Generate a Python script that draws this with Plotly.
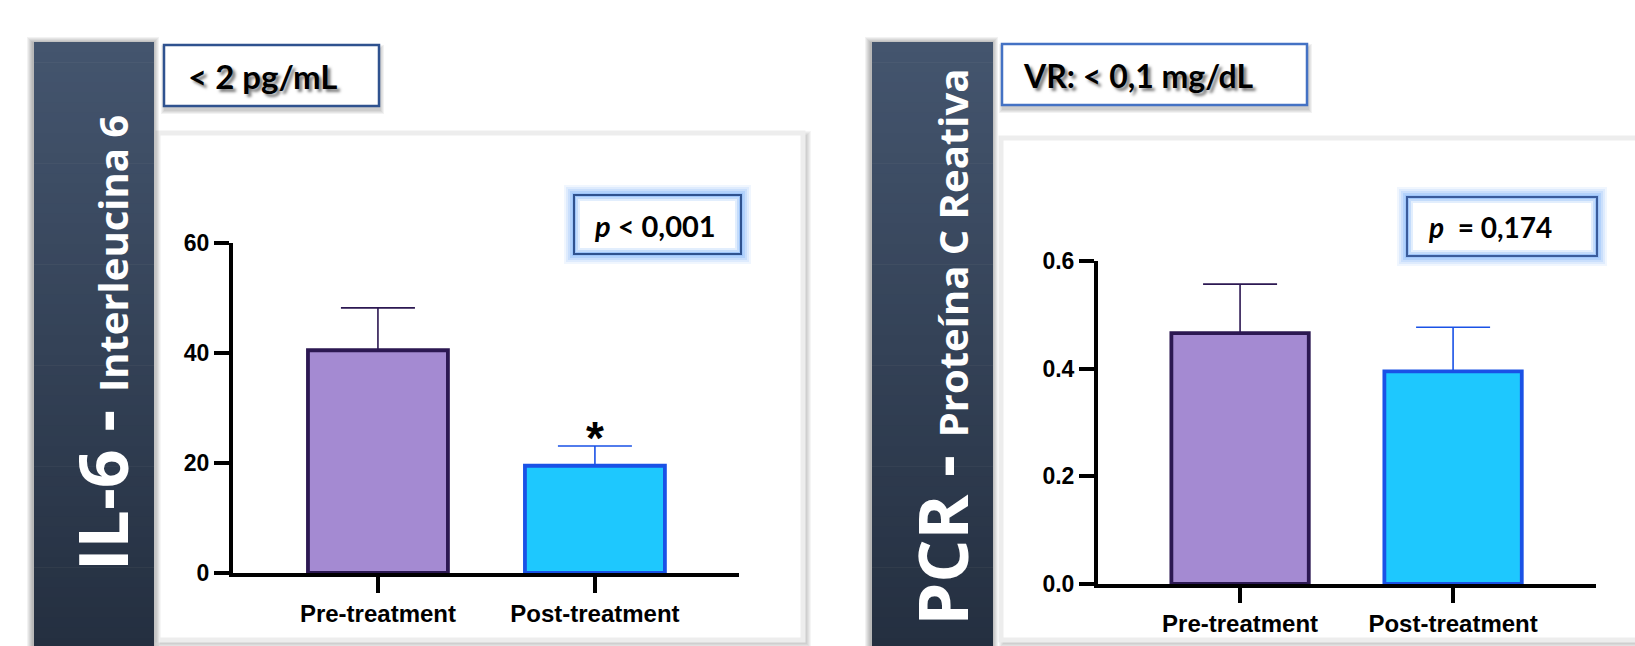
import plotly.graph_objects as go

# ---- data -------------------------------------------------------------
categories = ["Pre-treatment", "Post-treatment"]

il6_mean = [40.5, 19.5]          # pg/mL
il6_sem = [7.7, 3.6]
il6_ticks = [0, 20, 40, 60]

pcr_mean = [0.466, 0.395]        # mg/dL
pcr_sem = [0.091, 0.082]
pcr_ticks = [0.0, 0.2, 0.4, 0.6]

# ---- styling ----------------------------------------------------------
W, H = 1635, 646
BAR_FILL = ["#a48ad2", "#1ec8fe"]
BAR_LINE = ["#2c1852", "#1a52e6"]
AX_FONT = dict(family="Liberation Sans, Arial, sans-serif", size=23, color="black", weight="bold")
CAT_FONT = dict(AX_FONT, size=24)
BOX_FONT = dict(family="Lato, Open Sans, sans-serif", size=32, color="black", weight="bold")
SIDE_FONT = "Open Sans, DejaVu Sans, sans-serif"


def px_x(x):
    return x / W


def px_y(y):
    return 1 - y / H


def rect(x0, y0, x1, y1, fill=None, line_color=None, line_width=0, layer="below"):
    d = dict(type="rect", xref="paper", yref="paper", layer=layer,
             x0=px_x(x0), x1=px_x(x1), y0=px_y(y1), y1=px_y(y0))
    d["fillcolor"] = fill if fill else "rgba(0,0,0,0)"
    d["line"] = dict(color=line_color if line_color else "rgba(0,0,0,0)", width=line_width)
    return d


def mix(c0, c1, t):
    return "rgb(%d,%d,%d)" % tuple(round(a + (b - a) * t) for a, b in zip(c0, c1))


shapes = []


def soft_shadow(x0, y0, x1, y1, dx=0, dy=0, spread=6, alpha=0.045):
    for k in range(spread, 0, -1):
        shapes.append(rect(x0 - k + dx, y0 - k + dy, x1 + k + dx, y1 + k + dy,
                           fill="rgba(0,0,0,%.3f)" % alpha))


def sidebar(x0, x1, y0=42, y1=H + 2):
    soft_shadow(x0, y0, x1, y1, dx=-1, dy=1, spread=6, alpha=0.05)
    top, bottom = (68, 85, 110), (36, 47, 64)
    n = 60
    step = (y1 - y0) / n
    for i in range(n):
        shapes.append(rect(x0, y0 + i * step, x1, y0 + (i + 1) * step + 0.6,
                           fill=mix(top, bottom, i / (n - 1))))


def panel(x0, y0, x1, y1):
    soft_shadow(x0, y0, x1, y1, dx=3, dy=3, spread=5, alpha=0.04)
    shapes.append(rect(x0, y0, x1, y1, fill="white", line_color="#ededed", line_width=5))


def label_box(x0, y0, x1, y1, border):
    soft_shadow(x0, y0, x1, y1, dx=1, dy=4, spread=4, alpha=0.05)
    shapes.append(rect(x0, y0, x1, y1, fill="white", line_color=border, line_width=2.5))


def glow_box(x0, y0, x1, y1, border="#2f528f"):
    for k, a in [(10, 0.10), (8, 0.14), (6, 0.18), (4, 0.24), (2, 0.30)]:
        shapes.append(rect(x0 - k, y0 - k, x1 + k, y1 + k, fill="rgba(110,170,250,%.2f)" % a))
    shapes.append(rect(x0 + 2, y0 + 2, x1 - 2, y1 - 2, fill="#c4dcfb"))
    shapes.append(rect(x0 + 4, y0 + 4, x1 - 4, y1 - 4, fill="#e2eefd"))
    shapes.append(rect(x0 + 6, y0 + 6, x1 - 6, y1 - 6, fill="white"))
    shapes.append(rect(x0, y0, x1, y1, line_color=border, line_width=2))


# background furniture: side banners, white panels, labelled boxes
panel(158, 133, 803, 640)
panel(1001, 138, 1660, 640)
sidebar(34, 154)
sidebar(872, 993)
label_box(164, 45, 379, 106, "#2f528f")
label_box(1002, 44, 1307, 105, "#4472c4")
glow_box(574, 195, 741, 254)
glow_box(1407, 197, 1597, 256, border="#3a5c9c")

# ---- figure -----------------------------------------------------------
fig = go.Figure()

panels = [
    dict(mean=il6_mean, sem=il6_sem, xa="x", ya="y"),
    dict(mean=pcr_mean, sem=pcr_sem, xa="x2", ya="y2"),
]
for p in panels:
    for i, cat in enumerate(categories):
        fig.add_trace(go.Bar(
            x=[i], y=[p["mean"][i]], name=cat, width=0.645,
            xaxis=p["xa"], yaxis=p["ya"],
            marker=dict(color=BAR_FILL[i], line=dict(color=BAR_LINE[i], width=3.8)),
            error_y=dict(type="data", array=[p["sem"][i]], arrayminus=[0], symmetric=False,
                         color=BAR_LINE[i], thickness=1.6, width=37),
            showlegend=False, hoverinfo="skip",
        ))

axis_common = dict(showgrid=False, zeroline=False, showline=True, linecolor="black",
                   linewidth=4, ticks="outside", tickcolor="black", tickwidth=4,
                   fixedrange=True, automargin=False)

fig.update_layout(
    width=W, height=H, autosize=False,
    margin=dict(l=0, r=0, t=0, b=0, pad=0, autoexpand=False),
    paper_bgcolor="white", plot_bgcolor="rgba(0,0,0,0)",
    barmode="overlay",
    shapes=shapes,
    xaxis=dict(domain=[px_x(233), px_x(739)], range=[-0.668, 1.664], tickfont=CAT_FONT,
               tickvals=[0, 1], ticktext=categories, ticklen=16, anchor="y", **axis_common),
    yaxis=dict(domain=[px_y(573), px_y(243)], range=[0, 60], tickvals=il6_ticks,
               tickfont=AX_FONT, ticklen=15, anchor="x", **axis_common),
    xaxis2=dict(domain=[px_x(1098), px_x(1596)], range=[-0.667, 1.671], tickfont=CAT_FONT,
                tickvals=[0, 1], ticktext=categories, ticklen=15, anchor="y2", **axis_common),
    yaxis2=dict(domain=[px_y(584), px_y(261)], range=[0, 0.6], tickvals=pcr_ticks,
                tickfont=AX_FONT, tickformat=".1f", ticklen=15, anchor="x2", **axis_common),
)

ann = []
SHADOW = "3px 3px 3px rgba(0,0,0,0.5)"


def box_text(text, x, y, font):
    ann.append(dict(text=text, x=px_x(x), y=px_y(y), xref="paper", yref="paper",
                    xanchor="left", yanchor="middle", showarrow=False,
                    font=dict(font, shadow=SHADOW)))


box_text("&lt; 2 pg/mL", 186, 76, dict(BOX_FONT, size=33))
box_text("VR: &lt; 0,1 mg/dL", 1021, 75, BOX_FONT)

P_FONT = dict(BOX_FONT, size=28)
ann.append(dict(text="<i>p</i> &lt; 0,001", x=px_x(592), y=px_y(225), xref="paper", yref="paper",
                xanchor="left", yanchor="middle", showarrow=False, font=dict(P_FONT, size=29)))
ann.append(dict(text="<i>p</i>&nbsp; = 0,174", x=px_x(1426), y=px_y(227), xref="paper", yref="paper",
                xanchor="left", yanchor="middle", showarrow=False, font=P_FONT))

# significance marker above the post-treatment IL-6 bar
ann.append(dict(text="*", x=1, y=il6_mean[1] + il6_sem[1], xref="x", yref="y",
                xanchor="center", yanchor="bottom", yshift=-20, showarrow=False,
                font=dict(family="Liberation Sans, Arial, sans-serif", size=46,
                          color="black", weight="bold")))

# vertical banner titles
side_titles = [
    ("IL-6 - <span style='font-size:40px'>Interleucina 6</span>", 101, 573),
    ("PCR - <span style='font-size:40px'>Proteína C Reativa</span>", 941, 628),
]
for text, x, y in side_titles:
    ann.append(dict(text=text, x=px_x(x), y=px_y(y), xref="paper", yref="paper",
                    xanchor="center", yanchor="bottom", textangle=-90, showarrow=False,
                    font=dict(family=SIDE_FONT, size=68, color="white", weight="bold")))

fig.update_layout(annotations=ann)
fig.write_html("out.html")
